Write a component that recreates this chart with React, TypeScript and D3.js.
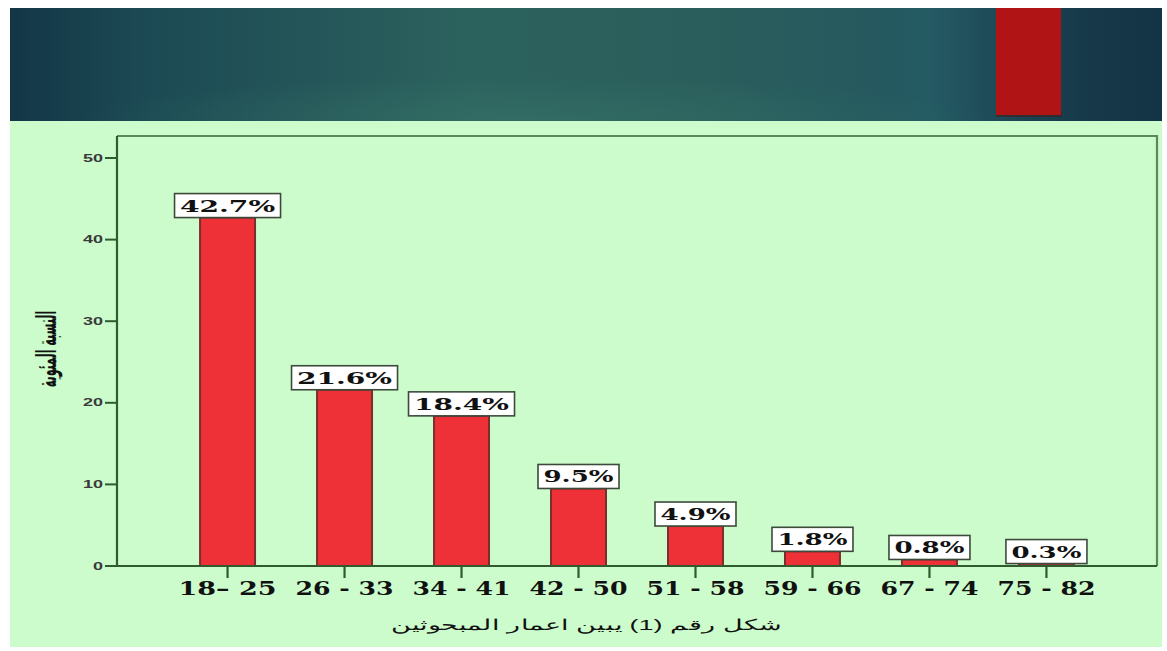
import React, { useEffect, useRef } from "react";
import * as d3 from "d3";

// Age groups of the respondents and their share (%)
const categories = ["18– 25", "26 - 33", "34 - 41", "42 - 50", "51 - 58", "59 - 66", "67 - 74", "75 - 82"];
const percents = [42.7, 21.6, 18.4, 9.5, 4.9, 1.8, 0.8, 0.3];
const yTicks = [0, 10, 20, 30, 40, 50];
const yTitle = "النسبة المئوية";
const caption = "شكل رقم (1) يبين اعمار المبحوثين";

const W = 1167;
const H = 651;
const SX = 1.8; // horizontal stretch of the lettering

const SERIF = "DejaVu Serif";
const SANS = "Liberation Sans";

export default function App() {
  const ref = useRef<SVGSVGElement | null>(null);

  useEffect(() => {
    const svg = d3.select(ref.current);
    svg.selectAll("*").remove();

    const defs = svg.append("defs");
    const hg = defs
      .append("linearGradient")
      .attr("id", "hdr")
      .attr("x1", "0")
      .attr("x2", "1")
      .attr("y1", "0")
      .attr("y2", "0");
    [
      [0, "#133646"],
      [0.12, "#1c4a54"],
      [0.4, "#2c625e"],
      [0.6, "#2a5e5c"],
      [0.75, "#25595f"],
      [0.8, "#245a63"],
      [0.88, "#1a4452"],
      [0.94, "#163849"],
      [1, "#143446"],
    ].forEach(([o, c]) => hg.append("stop").attr("offset", o as number).attr("stop-color", c as string));
    const rg = defs
      .append("radialGradient")
      .attr("id", "hdrGlow")
      .attr("cx", "0.45")
      .attr("cy", "1")
      .attr("r", "0.4");
    rg.append("stop").attr("offset", 0).attr("stop-color", "#3c7c6c").attr("stop-opacity", 0.4);
    rg.append("stop").attr("offset", 1).attr("stop-color", "#3c7c6c").attr("stop-opacity", 0);

    // page background
    svg.append("rect").attr("x", 10).attr("y", 8).attr("width", 1152).attr("height", 639).attr("fill", "#ccfccc");

    // header band
    svg.append("rect").attr("x", 10).attr("y", 8).attr("width", 1152).attr("height", 113).attr("fill", "url(#hdr)");
    svg.append("rect").attr("x", 10).attr("y", 8).attr("width", 1152).attr("height", 113).attr("fill", "url(#hdrGlow)");
    svg.append("rect").attr("x", 996).attr("y", 112).attr("width", 66).attr("height", 5).attr("fill", "#3a1f1f").attr("opacity", 0.6);
    svg.append("rect").attr("x", 996).attr("y", 8).attr("width", 65).attr("height", 107).attr("fill", "#b11414");

    const left = 117;
    const right = 1157;
    const y = d3.scaleLinear().domain([0, 50]).range([566, 158]);
    const x = d3
      .scaleBand<string>()
      .domain(categories)
      .range([left, right])
      .paddingInner(0.53)
      .paddingOuter(0.71);

    const topY = 136;

    // frame: top and right
    svg
      .append("path")
      .attr("d", `M${left},${topY}H${right}V${y(0)}`)
      .attr("fill", "none")
      .attr("stroke", "#5b875b")
      .attr("stroke-width", 2.2);

    // bars
    const g = svg.append("g");
    g.selectAll("rect.bar")
      .data(percents)
      .join("rect")
      .attr("class", "bar")
      .attr("x", (_d, i) => x(categories[i]) as number)
      .attr("y", (d) => y(d))
      .attr("width", x.bandwidth())
      .attr("height", (d) => y(0) - y(d))
      .attr("fill", "#ee3136")
      .attr("stroke", "#7a2e2e")
      .attr("stroke-width", 2);

    // axes
    svg
      .append("path")
      .attr("d", `M${left},${topY}V${y(0)}H${right}`)
      .attr("fill", "none")
      .attr("stroke", "#2f5b2f")
      .attr("stroke-width", 2.2);

    yTicks.forEach((t) => {
      svg
        .append("line")
        .attr("x1", left - 12)
        .attr("x2", left)
        .attr("y1", y(t))
        .attr("y2", y(t))
        .attr("stroke", "#2f5b2f")
        .attr("stroke-width", 2);
      svg
        .append("text")
        .attr("transform", `translate(${left - 14},${y(t) + 3.5}) scale(${SX},1)`)
        .attr("text-anchor", "end")
        .attr("font-family", SANS)
        .attr("font-weight", "bold")
        .attr("font-size", 10)
        .attr("fill", "#3a3a3a")
        .text(String(t));
    });

    categories.forEach((c) => {
      const cx = (x(c) as number) + x.bandwidth() / 2;
      svg
        .append("line")
        .attr("x1", cx)
        .attr("x2", cx)
        .attr("y1", y(0))
        .attr("y2", y(0) + 12)
        .attr("stroke", "#2f5b2f")
        .attr("stroke-width", 2.2);
      svg
        .append("text")
        .attr("x", cx)
        .attr("y", 595)
        .attr("text-anchor", "middle")
        .attr("font-family", SERIF)
        .attr("font-weight", "bold")
        .attr("font-size", 18)
        .attr("fill", "#111")
        .attr("textLength", 98)
        .attr("lengthAdjust", "spacingAndGlyphs")
        .text(c);
    });

    // value labels in boxes
    percents.forEach((v, i) => {
      const cx = (x(categories[i]) as number) + x.bandwidth() / 2;
      const bottom = y(v);
      const label = `${v.toFixed(1)}%`;
      const tw = label.length >= 5 ? 95 : 70;
      const w = tw + 11;
      svg
        .append("rect")
        .attr("x", cx - w / 2)
        .attr("y", bottom - 24)
        .attr("width", w)
        .attr("height", 24)
        .attr("fill", "#ffffff")
        .attr("stroke", "#3c4a3c")
        .attr("stroke-width", 1.6);
      svg
        .append("text")
        .attr("x", cx)
        .attr("y", bottom - 6)
        .attr("text-anchor", "middle")
        .attr("font-family", SERIF)
        .attr("font-weight", "bold")
        .attr("font-size", 16)
        .attr("fill", "#111")
        .attr("textLength", tw)
        .attr("lengthAdjust", "spacingAndGlyphs")
        .text(label);
    });

    // y axis title
    svg
      .append("text")
      .attr("transform", `translate(${56},${349}) scale(2.1,0.85) rotate(-90)`)
      .attr("text-anchor", "middle")
      .attr("font-family", "DejaVu Sans")
      .attr("font-weight", "bold")
      .attr("font-size", 13)
      .attr("fill", "#111")
      .text(yTitle);

    // caption
    svg
      .append("text")
      .attr("transform", `translate(${586},${630}) scale(${SX},1)`)
      .attr("text-anchor", "middle")
      .attr("font-family", SANS)
      .attr("font-size", 15)
      .attr("fill", "#111")
      .text(caption);
  }, []);

  return (
    <svg
      ref={ref}
      width={W}
      height={H}
      style={{ position: "absolute", left: 0, top: 0, background: "#ffffff" }}
    />
  );
}
